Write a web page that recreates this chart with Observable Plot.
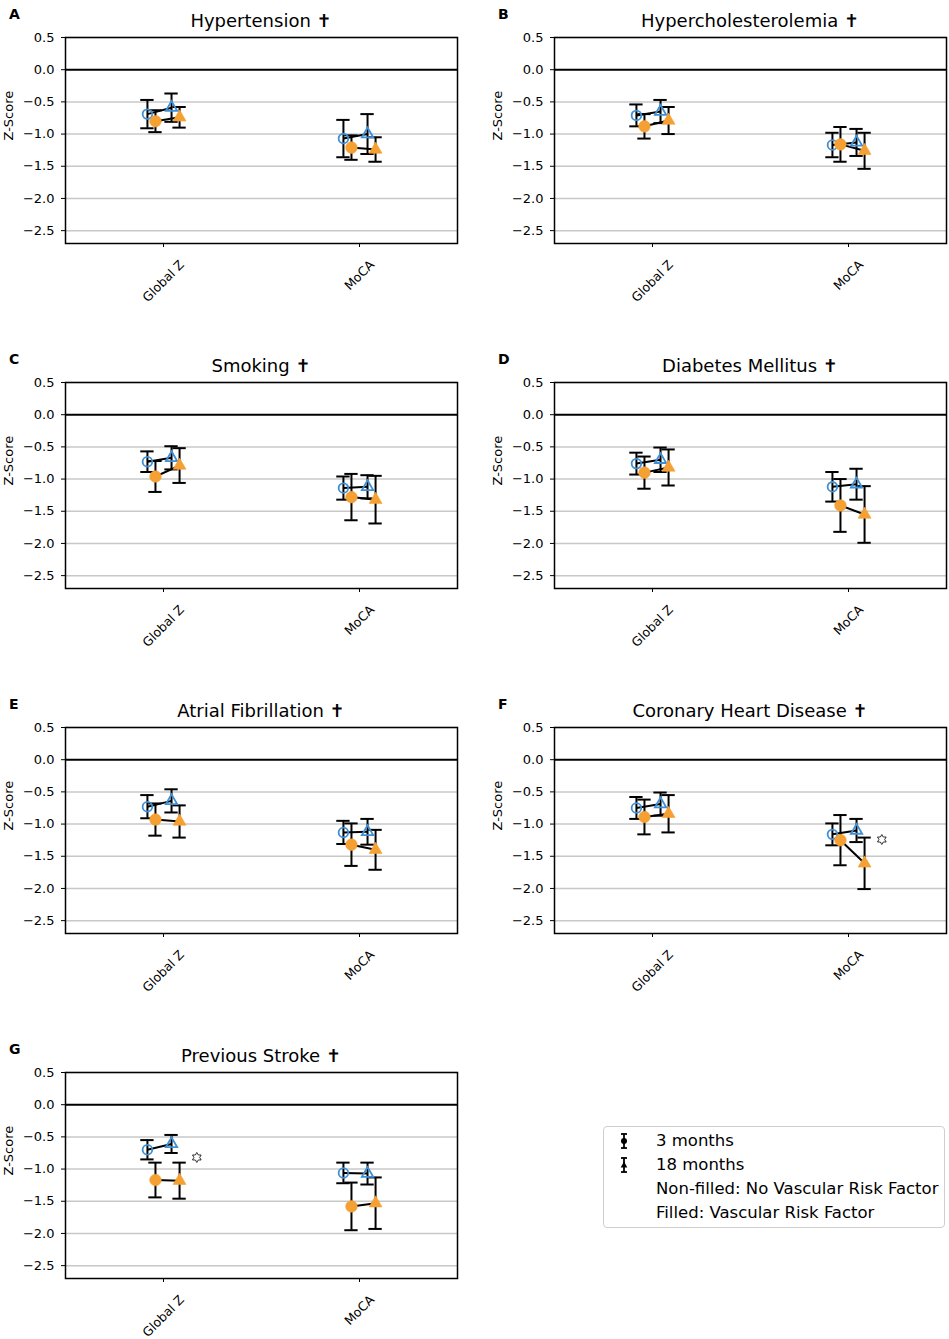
<!DOCTYPE html>
<html><head><meta charset="utf-8">
<script src="https://cdn.jsdelivr.net/npm/d3@7"></script>
<script src="https://cdn.jsdelivr.net/npm/@observablehq/plot@0.6"></script>
<style>
body{margin:0;background:#fff;font-family:"DejaVu Sans",sans-serif;}
#fig{position:relative;width:949px;height:1339px;background:#fff;}
.panel{position:absolute;width:489px;height:345px;}
.panel svg{position:absolute;left:0;top:0;overflow:visible;}
.title{position:absolute;left:65px;width:392px;top:10px;text-align:center;font-size:18px;line-height:22px;color:#000;}
.letter{position:absolute;left:9px;top:6px;font-weight:bold;font-size:14px;line-height:16px;}
#legend{position:absolute;left:603px;top:1126px;width:340px;height:98px;border:1px solid #cfcfcf;border-radius:4px;background:#fff;padding-top:2px;}
#legend .row{position:relative;height:24px;line-height:24px;font-size:16.5px;padding-left:52px;white-space:nowrap;}
#legend svg{position:absolute;left:14px;top:2px;}
</style></head>
<body>
<div id="fig"></div>
<script>
// ---- data ----
const panelTitles = ["Hypertension", "Hypercholesterolemia", "Smoking", "Diabetes Mellitus", "Atrial Fibrillation", "Coronary Heart Disease", "Previous Stroke"];
const panelLetters = ["A", "B", "C", "D", "E", "F", "G"];
const measures = ["Global Z", "MoCA"];
const yTicks = [0.5, 0.0, -0.5, -1.0, -1.5, -2.0, -2.5];
// each entry: [Global Z, MoCA]
const mean3NoRF  = [[-0.69,-1.07],[-0.71,-1.17],[-0.73,-1.14],[-0.76,-1.12],[-0.73,-1.13],[-0.75,-1.16],[-0.70,-1.06]];
const err3NoRF   = [[0.22,0.29],[0.17,0.19],[0.16,0.18],[0.17,0.23],[0.18,0.18],[0.17,0.17],[0.15,0.16]];
const mean3RF    = [[-0.80,-1.21],[-0.88,-1.16],[-0.96,-1.28],[-0.90,-1.41],[-0.93,-1.32],[-0.89,-1.25],[-1.17,-1.58]];
const err3RF     = [[0.17,0.19],[0.19,0.27],[0.24,0.36],[0.25,0.41],[0.25,0.33],[0.27,0.39],[0.27,0.37]];
const mean18NoRF = [[-0.59,-1.00],[-0.65,-1.13],[-0.67,-1.12],[-0.70,-1.08],[-0.64,-1.12],[-0.69,-1.10],[-0.61,-1.07]];
const err18NoRF  = [[0.22,0.31],[0.18,0.21],[0.18,0.18],[0.19,0.24],[0.18,0.20],[0.18,0.18],[0.14,0.17]];
const mean18RF   = [[-0.74,-1.24],[-0.79,-1.26],[-0.79,-1.32],[-0.82,-1.55],[-0.96,-1.40],[-0.84,-1.61],[-1.18,-1.53]];
const err18RF    = [[0.16,0.19],[0.21,0.28],[0.27,0.37],[0.28,0.44],[0.25,0.31],[0.29,0.40],[0.28,0.40]];
// significance stars
const starPanels = [5, 6];
const starMeasure = [1, 0];
const starValues = [-1.24, -0.82];
const legendLabels = ["3 months", "18 months", "Non-filled: No Vascular Risk Factor", "Filled: Vascular Risk Factor"];

// ---- style ----
const BLUE = "#3d8fd6", ORANGE = "#f5a032";
const groups = [
  {mean: mean3NoRF,  err: err3NoRF,  off: -0.082, symbol: "circle",   open: true,  r: 4.8, key: "no"},
  {mean: mean3RF,    err: err3RF,    off: -0.041, symbol: "circle",   open: false, r: 5.8, key: "rf"},
  {mean: mean18NoRF, err: err18NoRF, off:  0.041, symbol: "triangle", open: true,  r: 4.2, key: "no"},
  {mean: mean18RF,   err: err18RF,   off:  0.082, symbol: "triangle", open: false, r: 4.8, key: "rf"}
];
const CAP = 0.034, STAR_OFF = 0.17;

const hexagram = {
  draw(ctx, size) {
    const R = Math.sqrt(size / Math.PI), ri = R / Math.sqrt(3);
    for (let k = 0; k < 12; k++) {
      const a = (-90 + k * 30) * Math.PI / 180, rr = k % 2 ? ri : R;
      const px = rr * Math.cos(a), py = rr * Math.sin(a);
      if (k === 0) ctx.moveTo(px, py); else ctx.lineTo(px, py);
    }
    ctx.closePath();
  }
};

const cnv = document.createElement("canvas").getContext("2d");
cnv.font = "12.5px 'DejaVu Sans'";

function makePanel(i) {
  const rows = [];
  const links = [];
  for (let m = 0; m < 2; m++) {
    groups.forEach(g => rows.push({x: m + g.off, y: g.mean[i][m], e: g.err[i][m], g}));
    for (const key of ["no", "rf"]) {
      const [a, b] = rows.filter(d => d.x > m - 0.5 && d.x < m + 0.5 && d.g.key === key);
      links.push({x1: a.x, y1: a.y, x2: b.x, y2: b.y});
    }
  }
  const stars = [];
  starPanels.forEach((p, k) => { if (p === i) stars.push({x: starMeasure[k] + STAR_OFF, y: starValues[k]}); });

  const labelMarks = measures.map((lab, m) => {
    const L = cnv.measureText(lab).width;
    return Plot.text([lab], {x: () => m, text: d => d, frameAnchor: "bottom", rotate: -45,
      dy: 15 + (L + 12) / (2 * Math.SQRT2), fontSize: 12.5, textAnchor: "middle", lineAnchor: "middle"});
  });

  const dots = groups.map(g => {
    const data = rows.filter(d => d.g === g);
    return g.open
      ? Plot.dot(data, {x: "x", y: "y", symbol: () => g.symbol, r: g.r, fill: "none", stroke: BLUE, strokeWidth: 1.8})
      : Plot.dot(data, {x: "x", y: "y", symbol: () => g.symbol, r: g.r, fill: ORANGE, stroke: ORANGE, strokeWidth: 0.6});
  });

  return Plot.plot({
    width: 489, height: 345,
    marginLeft: 65, marginRight: 32, marginTop: 37, marginBottom: 102,
    x: {domain: [-0.5, 1.5]},
    y: {domain: [-2.7, 0.5]},
    symbol: {domain: ["circle", "triangle"], range: ["circle", "triangle"]},
    style: {fontFamily: "DejaVu Sans", fontSize: "13px", background: "white", color: "black"},
    marks: [
      Plot.ruleY(yTicks.filter(t => t !== 0), {stroke: "#c8c8c8", strokeWidth: 1.5}),
      Plot.ruleY([0], {stroke: "black", strokeWidth: 2}),
      Plot.ruleX(rows, {x: "x", y1: d => d.y - d.e, y2: d => d.y + d.e, stroke: "black", strokeWidth: 2}),
      Plot.ruleY(rows, {y: d => d.y - d.e, x1: d => d.x - CAP, x2: d => d.x + CAP, stroke: "black", strokeWidth: 2}),
      Plot.ruleY(rows, {y: d => d.y + d.e, x1: d => d.x - CAP, x2: d => d.x + CAP, stroke: "black", strokeWidth: 2}),
      Plot.link(links, {x1: "x1", y1: "y1", x2: "x2", y2: "y2", stroke: "black", strokeWidth: 2}),
      ...dots,
      Plot.dot(stars, {x: "x", y: "y", symbol: hexagram, r: 5, fill: "white", stroke: "black", strokeWidth: 0.8}),
      Plot.frame({stroke: "black", strokeWidth: 1.5}),
      Plot.axisY({ticks: yTicks, tickFormat: d3.format(".1f"), tickSize: 4, tickPadding: 7, fontSize: 13, label: null}),
      Plot.axisX({ticks: [0, 1], tickFormat: () => "", tickSize: 4, label: null}),
      Plot.text(["Z-Score"], {text: d => d, frameAnchor: "left", rotate: -90, dx: -57, fontSize: 13}),
      ...labelMarks
    ]
  });
}

const fig = document.getElementById("fig");
panelTitles.forEach((t, i) => {
  const col = i % 2, row = Math.floor(i / 2);
  const div = document.createElement("div");
  div.className = "panel";
  div.style.left = (col * 489) + "px";
  div.style.top = (row * 345) + "px";
  div.appendChild(makePanel(i));
  const ti = document.createElement("div");
  ti.className = "title";
  ti.textContent = t + " \u271D";
  div.appendChild(ti);
  const le = document.createElement("div");
  le.className = "letter";
  le.textContent = panelLetters[i];
  div.appendChild(le);
  fig.appendChild(div);
});

// legend
const legend = document.createElement("div");
legend.id = "legend";
const icons = [
  '<svg width="12" height="20"><line x1="6" y1="3" x2="6" y2="17" stroke="black" stroke-width="1.8"/><line x1="3" y1="3" x2="9" y2="3" stroke="black" stroke-width="1.8"/><line x1="3" y1="17" x2="9" y2="17" stroke="black" stroke-width="1.8"/><circle cx="6" cy="10" r="3" fill="black"/></svg>',
  '<svg width="12" height="20"><line x1="6" y1="3" x2="6" y2="17" stroke="black" stroke-width="1.8"/><line x1="3" y1="3" x2="9" y2="3" stroke="black" stroke-width="1.8"/><line x1="3" y1="17" x2="9" y2="17" stroke="black" stroke-width="1.8"/><path d="M6,6.5 L9.3,12.5 L2.7,12.5 Z" fill="black"/></svg>',
  "", ""
];
legendLabels.forEach((lab, k) => {
  const r = document.createElement("div");
  r.className = "row";
  r.innerHTML = icons[k];
  r.appendChild(document.createTextNode(lab));
  legend.appendChild(r);
});
fig.appendChild(legend);
</script>
</body></html>
